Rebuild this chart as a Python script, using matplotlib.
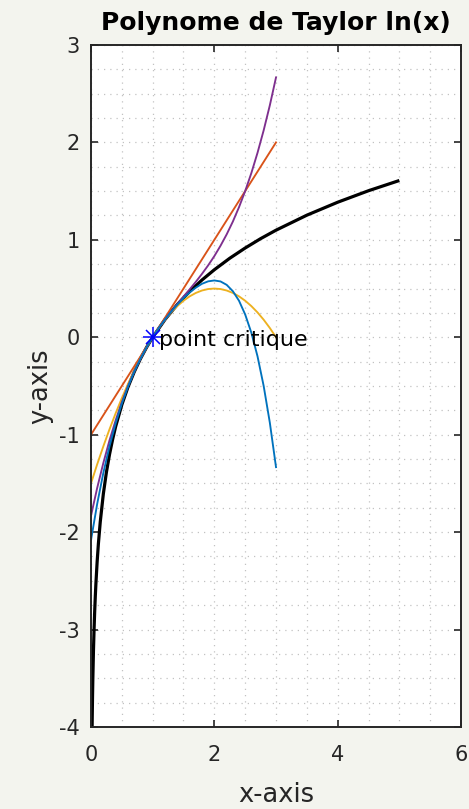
import matplotlib
matplotlib.use("Agg")
import matplotlib.pyplot as plt
from matplotlib.ticker import MultipleLocator

# ln(x) sampled on (0, 5], denser close to 0
x_ln = [0.015, 0.02, 0.025, 0.03, 0.04, 0.05, 0.06, 0.07, 0.08, 0.1, 0.12, 0.15,
        0.2, 0.25, 0.3, 0.35, 0.4, 0.5, 0.6, 0.7, 0.8, 0.9, 1.0, 1.2, 1.4, 1.6,
        1.8, 2.0, 2.25, 2.5, 2.75, 3.0, 3.5, 4.0, 4.5, 5.0]
y_ln = [-4.200, -3.912, -3.689, -3.507, -3.219, -2.996, -2.813, -2.659, -2.526,
        -2.303, -2.120, -1.897, -1.609, -1.386, -1.204, -1.050, -0.916, -0.693,
        -0.511, -0.357, -0.223, -0.105, 0.000, 0.182, 0.336, 0.470, 0.588, 0.693,
        0.811, 0.916, 1.012, 1.099, 1.253, 1.386, 1.504, 1.609]

# Taylor polynomials of ln(x) around x = 1, degrees 1 to 4, on [0, 3]
x_p = [0.0, 0.1, 0.2, 0.3, 0.4, 0.5, 0.6, 0.7, 0.8, 0.9, 1.0, 1.1, 1.2, 1.3, 1.4,
       1.5, 1.6, 1.7, 1.8, 1.9, 2.0, 2.1, 2.2, 2.3, 2.4, 2.5, 2.6, 2.7, 2.8, 2.9, 3.0]
p1 = [-1.0, -0.9, -0.8, -0.7, -0.6, -0.5, -0.4, -0.3, -0.2, -0.1, 0.0, 0.1, 0.2,
      0.3, 0.4, 0.5, 0.6, 0.7, 0.8, 0.9, 1.0, 1.1, 1.2, 1.3, 1.4, 1.5, 1.6, 1.7,
      1.8, 1.9, 2.0]
p2 = [-1.500, -1.305, -1.120, -0.945, -0.780, -0.625, -0.480, -0.345, -0.220,
      -0.105, 0.000, 0.095, 0.180, 0.255, 0.320, 0.375, 0.420, 0.455, 0.480,
      0.495, 0.500, 0.495, 0.480, 0.455, 0.420, 0.375, 0.320, 0.255, 0.180,
      0.095, 0.000]
p3 = [-1.833, -1.548, -1.291, -1.059, -0.852, -0.667, -0.501, -0.354, -0.223,
      -0.105, 0.000, 0.095, 0.183, 0.264, 0.341, 0.417, 0.492, 0.569, 0.651,
      0.738, 0.833, 0.939, 1.056, 1.187, 1.335, 1.500, 1.685, 1.893, 2.124,
      2.381, 2.667]
p4 = [-2.083, -1.712, -1.393, -1.119, -0.884, -0.682, -0.508, -0.356, -0.223,
      -0.105, 0.000, 0.095, 0.182, 0.262, 0.335, 0.401, 0.460, 0.509, 0.549,
      0.574, 0.583, 0.573, 0.538, 0.473, 0.375, 0.234, 0.047, -0.195, -0.500,
      -0.877, -1.333]

crit_x, crit_y = 1, 0

plt.rcParams['font.family'] = ['DejaVu Sans']
plt.rcParams['axes.unicode_minus'] = False
ink = '#262626'

fig = plt.figure(figsize=(4.69, 8.09), dpi=100, facecolor='#f3f4ee')
ax = fig.add_axes([0.194, 0.1014, 0.789, 0.843])

ax.plot(x_ln, y_ln, color='black', lw=2.3, solid_capstyle='butt')
ax.plot(x_p, p1, color='#D95319', lw=1.35)
ax.plot(x_p, p2, color='#EDB120', lw=1.35)
ax.plot(x_p, p3, color='#7E2F8E', lw=1.35)
ax.plot(x_p, p4, color='#0072BD', lw=1.35)
# asterisk marker = plus + cross
ax.plot(crit_x, crit_y, marker='+', color='blue', ms=14, mew=1.1, ls='none')
ax.plot(crit_x, crit_y, marker='x', color='blue', ms=10, mew=1.1, ls='none')
ax.text(crit_x + 0.1, crit_y - 0.03, 'point critique', fontsize=16, va='center', ha='left')

ax.set_xlim(0, 6)
ax.set_ylim(-4, 3)
ax.xaxis.set_major_locator(MultipleLocator(2))
ax.yaxis.set_major_locator(MultipleLocator(1))
ax.xaxis.set_minor_locator(MultipleLocator(0.5))
ax.yaxis.set_minor_locator(MultipleLocator(0.25))
ax.grid(which='both', linestyle=(0, (1, 4)), color='#c2c2c2', lw=0.9)
ax.set_axisbelow(True)

ax.tick_params(which='major', direction='in', length=5, width=1.2, color=ink,
               labelsize=15, labelcolor=ink, top=True, right=True)
ax.tick_params(axis='x', which='major', pad=13)
ax.tick_params(axis='y', which='major', pad=8)
ax.tick_params(which='minor', length=0)
for s in ax.spines.values():
    s.set_linewidth(1.4)
    s.set_color(ink)

ax.set_title('Polynome de Taylor ln(x)', fontsize=18, fontweight='bold', pad=11)
ax.set_xlabel('x-axis', fontsize=18.5, color=ink, labelpad=12)
ax.set_ylabel('y-axis', fontsize=18.5, color=ink, labelpad=4)

fig.savefig('out.png', dpi=100, facecolor=fig.get_facecolor())
